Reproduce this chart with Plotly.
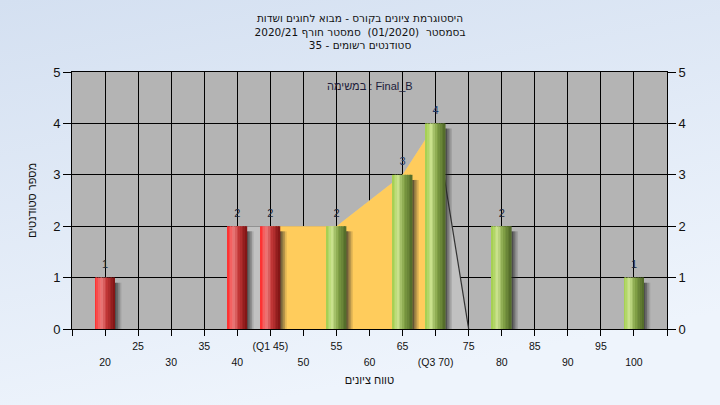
import base64
import plotly.graph_objects as go

# ---- data ----
grades = [20, 40, 45, 55, 65, 70, 80, 100]
counts = [1, 2, 2, 2, 3, 4, 2, 1]
q1 = 45
q3 = 70
upper_tickvals = [25, 35, 45, 55, 65, 75, 85, 95]
upper_ticktext = ["25", "35", "(Q1 45)", "55", "65", "75", "85", "95"]
lower_tickvals = [20, 30, 40, 50, 60, 70, 80, 90, 100]
lower_ticktext = ["20", "30", "40", "50", "60", "(Q3 70)", "80", "90", "100"]
title_lines = [
    "היסטוגרמת ציונים בקורס - מבוא לחוגים ושדות",
    "בסמסטר  (01/2020)  סמסטר חורף 2020/21",
    "סטודנטים רשומים - 35",
]
series_label = "במשימה : Final_B"
x_title = "טווח ציונים"
y_title = "מספר סטודנטים"

FONT = "Liberation Sans, DejaVu Sans, Arial, sans-serif"
TFONT = "DejaVu Sans, Liberation Sans, sans-serif"
W, H = 720, 405
L, R, T, B = 72, 53, 72, 76
pw, ph = W - L - R, H - T - B

fig = go.Figure()

# interquartile areas (main subplot, drawn beneath the bars)
iq_x = [g for g in grades if q1 <= g <= q3]
iq_y = [c for g, c in zip(grades, counts) if q1 <= g <= q3]
fig.add_trace(go.Scatter(x=[q1 - 5] + iq_x + [q3 + 5], y=[iq_y[0]] + iq_y + [0],
                         mode="lines", line=dict(width=0), fill="tozeroy",
                         fillcolor="rgb(193,193,193)", hoverinfo="skip", showlegend=False))
fig.add_trace(go.Scatter(x=iq_x, y=iq_y, mode="lines", line=dict(width=0), fill="tozeroy",
                         fillcolor="rgb(255,204,92)", hoverinfo="skip", showlegend=False))
fig.add_trace(go.Scatter(x=[q3, q3 + 5], y=[iq_y[-1], 0], mode="lines",
                         line=dict(color="rgb(50,50,50)", width=1.2),
                         hoverinfo="skip", showlegend=False))

# shadows (overlay subplot)
shadow_alphas = [0.72, 0.52, 0.32, 0.14]
for k, a in enumerate(shadow_alphas):
    fig.add_trace(go.Bar(x=grades, y=[c - 0.1 for c in counts], width=0.27,
                         offset=1.45 + k * 0.25, xaxis="x2", yaxis="y2",
                         marker=dict(color="rgba(40,40,40,%.2f)" % a, line=dict(width=0)),
                         hoverinfo="skip", showlegend=False))

# cylinder bars as gradient strips
red_stops = [(0, (255, 40, 40)), (0.22, (242, 100, 100)), (0.35, (234, 122, 122)),
             (0.6, (195, 55, 55)), (1, (125, 18, 18))]
green_stops = [(0, (160, 205, 75)), (0.3, (202, 226, 142)), (0.6, (130, 162, 70)),
               (1, (80, 104, 40))]


def interp(stops, t):
    for (t0, c0), (t1, c1) in zip(stops[:-1], stops[1:]):
        if t0 <= t <= t1:
            f = (t - t0) / (t1 - t0)
            return "rgb(%d,%d,%d)" % tuple(round(a + (b - a) * f) for a, b in zip(c0, c1))
    return "rgb(%d,%d,%d)" % stops[-1][1]


BW = 3.0
N = 12
sw = BW / N
for i in range(N):
    t = (i + 0.5) / N
    cols = [interp(red_stops if g <= q1 else green_stops, t) for g in grades]
    fig.add_trace(go.Bar(x=grades, y=counts, width=sw + (0.03 if i < N - 1 else 0),
                         offset=-BW / 2 + i * sw, xaxis="x2", yaxis="y2",
                         marker=dict(color=cols, line=dict(width=0)),
                         hoverinfo="skip", showlegend=False))

# value labels
label_colors = ["#1c2638" if c < 3 else "#1f3a66" for c in counts]
fig.add_trace(go.Scatter(x=grades, y=counts, mode="markers+text", text=[str(c) for c in counts],
                         textposition="top center", xaxis="x2", yaxis="y2",
                         marker=dict(size=9, color="rgba(0,0,0,0)"),
                         textfont=dict(family=FONT, size=11, color=label_colors),
                         hoverinfo="skip", showlegend=False, cliponaxis=False))

# background gradient
svg = ("<svg xmlns='http://www.w3.org/2000/svg' width='720' height='405'>"
       "<defs><linearGradient id='g' x1='0' y1='0' x2='0.35' y2='1'>"
       "<stop offset='0' stop-color='#d4e0f1'/><stop offset='1' stop-color='#eef4fc'/>"
       "</linearGradient></defs><rect width='720' height='405' fill='url(#g)'/></svg>")
src = "data:image/svg+xml;base64," + base64.b64encode(svg.encode()).decode()

fig.update_layout(
    width=W, height=H,
    margin=dict(l=L, r=R, t=T, b=B, autoexpand=False),
    paper_bgcolor="#e2ebf7",
    plot_bgcolor="rgba(0,0,0,0)",
    barmode="overlay",
    showlegend=False,
    font=dict(family=FONT, size=11, color="#111111"),
    title=dict(text="<br>".join(title_lines), x=0.5, xanchor="center",
               y=1 - 22 / H, yanchor="top", yref="container",
               font=dict(family=TFONT, size=10.5, color="#111111")),
    images=[dict(source=src, xref="paper", yref="paper", x=-L / pw, y=1 + T / ph,
                 sizex=W / pw, sizey=H / ph, sizing="stretch", layer="below",
                 xanchor="left", yanchor="top")],
    shapes=[dict(type="rect", xref="paper", yref="paper", x0=0, x1=1, y0=0, y1=1,
                 fillcolor="rgb(180,180,180)", line=dict(width=0), layer="below")],
    xaxis=dict(range=[15, 105], tickmode="array",
               tickvals=list(range(15, 106, 5)),
               ticktext=[upper_ticktext[upper_tickvals.index(v)] if v in upper_tickvals else ""
                         for v in range(15, 106, 5)],
               ticks="outside", ticklen=6, tickcolor="black", tickwidth=1,
               showgrid=True, gridcolor="black", gridwidth=1,
               showline=True, linecolor="black", linewidth=1, mirror=True,
               zeroline=False, tickfont=dict(size=10.5, color="#111111"),
               ticklabelstandoff=1),
    xaxis2=dict(range=[15, 105], overlaying="x", anchor="y2", side="bottom",
                tickmode="array", tickvals=lower_tickvals, ticktext=lower_ticktext,
                ticks="", showgrid=False, showline=False, zeroline=False,
                tickfont=dict(size=10.5, color="#111111"), ticklabelstandoff=25,
                title=dict(text=x_title, standoff=9, font=dict(size=11, color="#111111"))),
    yaxis=dict(range=[0, 5], tickmode="array", tickvals=[0, 1, 2, 3, 4, 5],
               ticks="outside", ticklen=8, tickcolor="black",
               showgrid=True, gridcolor="black", gridwidth=1,
               showline=True, linecolor="black", linewidth=1, mirror=True,
               zeroline=False, tickfont=dict(size=13, color="#111111"),
               title=dict(text=y_title, standoff=14, font=dict(size=11, color="#111111"))),
    yaxis2=dict(range=[0, 5], overlaying="y", anchor="x2", side="right",
                tickmode="array", tickvals=[0, 1, 2, 3, 4, 5],
                ticks="outside", ticklen=8, tickcolor="black",
                showgrid=False, zeroline=False, showline=False,
                tickfont=dict(size=13, color="#111111")),
    annotations=[dict(text=series_label, xref="paper", yref="paper", x=0.5,
                      y=(T + ph - 86) / ph, xanchor="center", yanchor="middle",
                      showarrow=False, font=dict(size=11, color="#1c1c3a"))],
)

fig.write_html("out.html", config={"displayModeBar": False},
               post_script="document.body.style.margin='0';")
